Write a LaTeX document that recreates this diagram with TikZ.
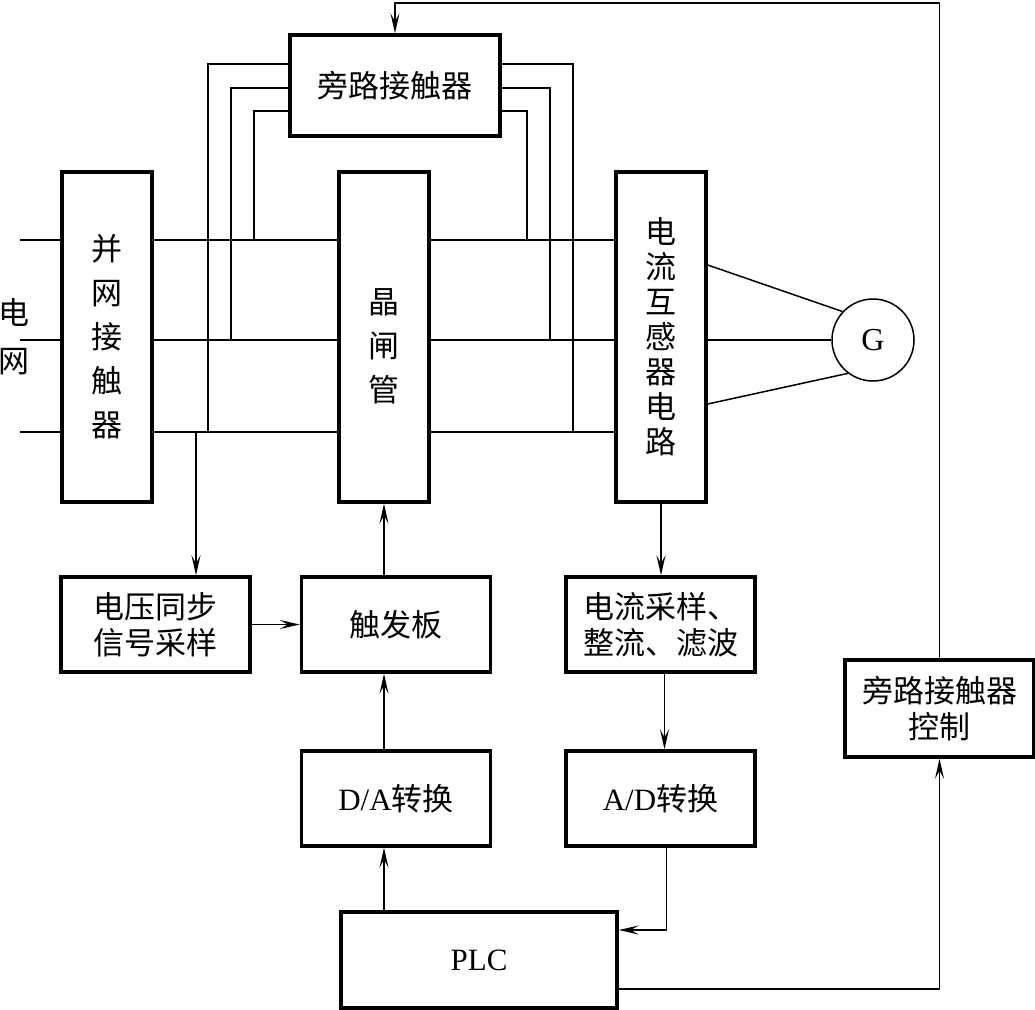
\documentclass[tikz,border=0pt]{standalone}
\usepackage{fontspec}
\setmainfont{Liberation Serif}
\newfontfamily\cjk{Noto Sans CJK SC}
\usepackage{tikz}
\usetikzlibrary{arrows.meta,calc,positioning}

\begin{document}
\begin{tikzpicture}[x=1pt,y=-1pt]
	\tikzstyle{box} = [draw, line width=3.4pt, inner sep=0pt, align=center, font=\cjk\fontsize{31}{36}\selectfont]
	\tikzstyle{vbox} = [box, minimum width=90pt, minimum height=330pt, font=\cjk\fontsize{31}{44}\selectfont]
	\tikzstyle{wbox} = [box, minimum width=189pt, minimum height=95pt]
	\tikzstyle{wire} = [line width=1.5pt]
	\tikzstyle{arr} = [wire, -{Stealth[length=20pt,width=9pt,inset=8pt]}]
\useasboundingbox (0,0) rectangle (1035,1009);
\node[box, minimum width=210pt, minimum height=101pt] (bypass) at (395,85.5) {旁路接触器};
\node[vbox] (grid) at (107,337) {并\\网\\接\\触\\器};
\node[vbox] (thy) at (384,337) {};
\node[align=center, inner sep=0pt, font=\cjk\fontsize{31}{44}\selectfont] (thytext) at (384,346) {晶\\闸\\管};
\node[vbox, font=\cjk\fontsize{31}{35}\selectfont] (ct) at (661,337) {电\\流\\互\\感\\器\\电\\路};
\node[circle, draw, wire, minimum size=82pt, inner sep=0pt, font=\fontsize{32}{36}\selectfont] (G) at (873,340) {G};
\node[font=\cjk\fontsize{31}{36}\selectfont] (dian) at (14,312) {电};
\node[font=\cjk\fontsize{31}{36}\selectfont] (wang) at (14,362) {网};
\node[wbox] (sync) at (155.5,624.5) {电压同步\\信号采样};
\node[wbox] (trig) at (396,624.5) {触发板};
\node[wbox] (samp) at (660.5,624.5) {电流采样、\\整流、滤波};
\node[wbox, minimum height=97pt] (bctl) at (939.5,708.5) {旁路接触器\\控制};
\node[wbox] (da) at (396,798.5) {{\rmfamily D/A}转换};
\node[wbox] (ad) at (660.5,798.5) {{\rmfamily A/D}转换};
\node[box, minimum width=276pt, minimum height=96pt, font=\rmfamily\fontsize{31}{36}\selectfont] (plc) at (479,960) {PLC};
% three phase lines
\coordinate (in1) at (20,240);
\coordinate (in2) at (20,340);
\coordinate (in3) at (20,432);
	\draw[wire] (in1) -- (in1 -| grid.west);
	\draw[wire] (in2) -- (in2 -| grid.west);
	\draw[wire] (in3) -- (in3 -| grid.west);
	\draw[wire] (in1 -| grid.east) -- (in1 -| thy.west);
	\draw[wire] (in2 -| grid.east) -- (in2 -| thy.west);
	\draw[wire] (in3 -| grid.east) -- (in3 -| thy.west);
	\draw[wire] (in1 -| thy.east) -- (in1 -| ct.west);
	\draw[wire] (in2 -| thy.east) -- (in2 -| ct.west);
	\draw[wire] (in3 -| thy.east) -- (in3 -| ct.west);
% bypass wires
\coordinate (bt1) at (0,64);
\coordinate (bt2) at (0,88);
\coordinate (bt3) at (0,111);
\coordinate (bl1) at (208,432);
\coordinate (bl2) at (231,340);
\coordinate (bl3) at (254,240);
\coordinate (br1) at (573,432);
\coordinate (br2) at (550,340);
\coordinate (br3) at (527,240);
	\draw[wire] (bt1 -| bypass.west) -| (bl1);
	\draw[wire] (bt2 -| bypass.west) -| (bl2);
	\draw[wire] (bt3 -| bypass.west) -| (bl3);
	\draw[wire] (bt1 -| bypass.east) -| (br1);
	\draw[wire] (bt2 -| bypass.east) -| (br2);
	\draw[wire] (bt3 -| bypass.east) -| (br3);
% generator
\coordinate (g1) at (0,265);
\coordinate (g3) at (0,404);
	\draw[wire] (ct.east |- g1) -- (G.137);
	\draw[wire] (ct.east |- G.west) -- (G.west);
	\draw[wire] (ct.east |- g3) -- (G.233);
% signals
\coordinate (tap) at (196,432);
\coordinate (top) at (395,3);
	\draw[arr] (tap) -- (tap |- sync.north);
	\draw[arr] (sync.east) -- (trig.west);
	\draw[arr] (trig.north -| thy) -- (thy.south);
	\draw[arr] (da.north -| thy) -- (trig.south -| thy);
	\draw[arr] (plc.north -| thy) -- (da.south -| thy);
	\draw[arr] (ct.south) -- (ct.south |- samp.north);
	\draw[arr] ([xshift=4pt]samp.south) -- ([xshift=4pt]ad.north);
	\draw[arr] ([xshift=6pt]ad.south) |- ([yshift=30pt]plc.east);
	\draw[arr] ([yshift=-29pt]plc.east) -| (bctl.south);
	\draw[arr] (bctl.north) |- (top) -- (bypass.north);
\end{tikzpicture}
\end{document}
